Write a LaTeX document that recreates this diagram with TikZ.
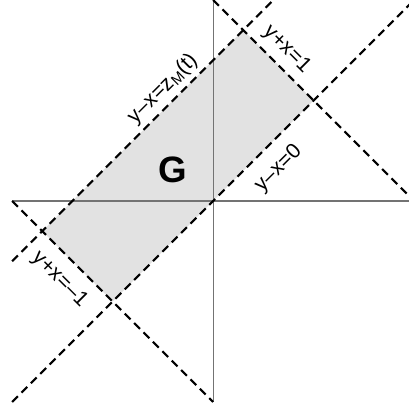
\documentclass[tikz,border=0pt]{standalone}
\usepackage{fontspec}
\setmainfont{Liberation Sans}
\usetikzlibrary{calc}
\definecolor{regiongray}{RGB}{226,226,226}
\definecolor{axisgray}{RGB}{115,115,115}

\begin{document}
\begin{tikzpicture}[x=5cm, y=5cm,
  every node/.style={font=\fontsize{15}{18}\selectfont, inner sep=0pt},
  boundline/.style={black, line width=1.5pt, dash pattern=on 5.8pt off 3.6pt},
  axisline/.style={axisgray, line width=0.75pt}]
\useasboundingbox (-1.06,-1.04) rectangle (0.97,1.0);
\coordinate (west) at (-1,0);
\coordinate (east) at (1,0);
\coordinate (north) at (0,1);
\coordinate (south) at (0,-1);
\coordinate (sw) at (-1,-1);
\coordinate (ne) at (1,1);
\coordinate (zlow) at (-1,-0.3);
\coordinate (zhigh) at (0.3,1);
\coordinate (gA) at (0.5,0.5);
\coordinate (gB) at (0.15,0.85);
\coordinate (gC) at (-0.85,-0.15);
\coordinate (gD) at (-0.5,-0.5);
\fill[regiongray] (gA) -- (gB) -- (gC) -- (gD) -- cycle;
\draw[axisline] (west) -- (east);
\draw[axisline] (south) -- (north);
\draw[boundline] (sw) -- (ne);
\draw[boundline] (zlow) -- (zhigh);
\draw[boundline] (north) -- (east);
\draw[boundline] (west) -- (south);
\node[font=\fontsize{26}{30}\selectfont\bfseries] (g) at (-0.2,0.154) {G};
\node[rotate=45] (lz) at (-0.25,0.558) {y–x=z\textsubscript{M}(t)};
\node[rotate=-45] (lp) at (0.366,0.754) {y+x=1};
\node[rotate=45] (lo) at (0.326,0.161) {y–x=0};
\node[rotate=-45] (lm) at (-0.764,-0.391) {y+x=–1};
\end{tikzpicture}
\end{document}
